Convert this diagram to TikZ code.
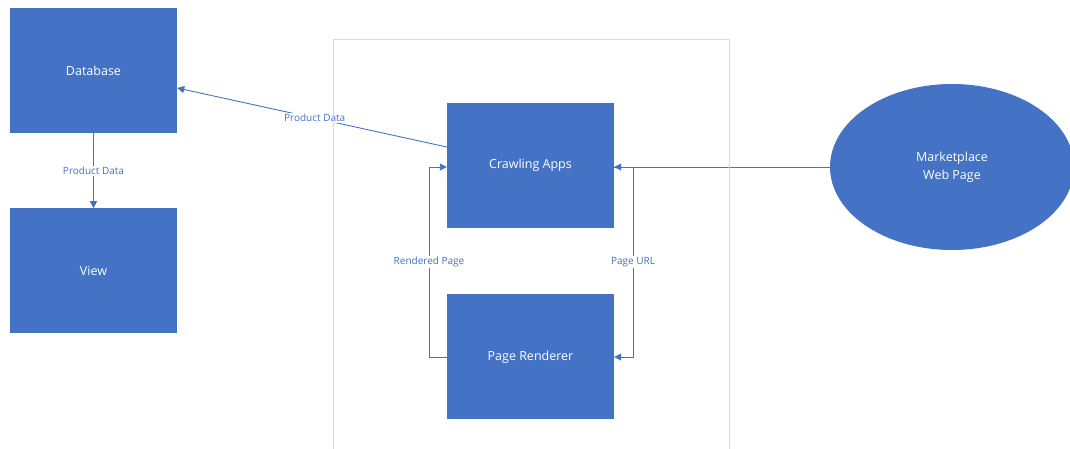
\documentclass[tikz,border=0pt]{standalone}
\usepackage{fontspec}
\setmainfont{Open Sans}
\usetikzlibrary{positioning, shapes.geometric, arrows.meta}

\definecolor{boxblue}{HTML}{4472C4}
\definecolor{framegray}{HTML}{D9D9D9}

\begin{document}
\begin{tikzpicture}[
  x=1pt, y=-1pt,
  boxstyle/.style={
        fill=boxblue,
        text=white,
        minimum width=167pt,
        minimum height=125pt,
        inner sep=0pt,
        font=\fontsize{12.5}{14}\selectfont
  },
  linkstyle/.style={
        draw=boxblue,
        line width=0.9pt,
        -{Triangle[width=7pt,length=7pt]}
  },
  labelstyle/.style={
        fill=white,
        text=boxblue,
        inner sep=1pt,
        font=\fontsize{10}{12}\selectfont
  }
]

    \useasboundingbox (0,0) rectangle (1070,449);

    \node[boxstyle] (DB) at (93.5,70.5) {Database};
    \node[boxstyle, below=75pt of DB] (View) {View};
    \node[boxstyle] (Crawl) at (530.5,165.5) {Crawling Apps};
    \node[boxstyle, below=66pt of Crawl] (Render) {Page Renderer};
    \node[ellipse, fill=boxblue, text=white, minimum width=244pt, minimum height=166pt,
          inner sep=0pt, align=center, font=\fontsize{12.5}{18}\selectfont]
          (Market) at (952,167) {Marketplace\\Web Page};

    \coordinate (RL_top) at (429,167);
    \coordinate (RL_bot) at (429,357);
    \coordinate (UR_top) at (633,167);
    \coordinate (UR_bot) at (633,357);

    \draw[linkstyle] (DB) -- node[labelstyle]{Product Data} (View);
    \draw[linkstyle] (Crawl.west |- 0,147) -- node[labelstyle, pos=0.49]{Product Data} (DB.east |- 0,88);
    \draw[linkstyle] (Market.west) -- (Crawl.east |- Market.west);
    \draw[linkstyle] (Render.west |- RL_bot) -- (RL_bot)
        -- node[labelstyle]{Rendered Page} (RL_top) -- (Crawl.west |- RL_top);
    \draw[linkstyle] (Crawl.east |- UR_top) -- (UR_top)
        -- node[labelstyle]{Page URL} (UR_bot) -- (Render.east |- UR_bot);

    % frame round the crawler
    \draw[framegray, line width=1pt] (333,449) -- (333,40) -- (729,40) -- (729,449);
\end{tikzpicture}
\end{document}
